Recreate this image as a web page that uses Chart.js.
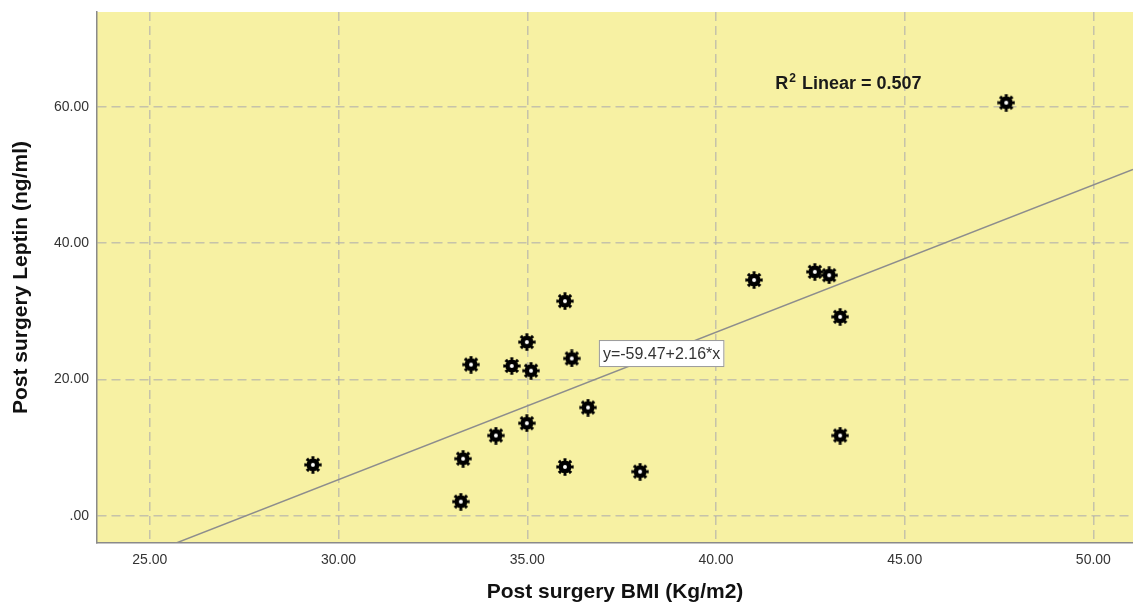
<!DOCTYPE html>
<html>
<head>
<meta charset="utf-8">
<script src="https://cdn.jsdelivr.net/npm/chart.js@4/dist/chart.umd.min.js"></script>
<style>
  html, body { margin: 0; padding: 0; background: #fff; }
  #wrap { width: 1133px; height: 607px; }
</style>
</head>
<body>
<div id="wrap"><canvas id="scatter" width="1133" height="607"></canvas></div>
<script>
// ── Data ───────────────────────────────────────────────────
const bmi    = [29.32, 33.24, 33.30, 33.51, 34.17, 34.59, 34.99, 35.10, 34.99, 36.00,
                36.18, 36.00, 36.61, 37.99, 41.01, 42.62, 43.00, 43.29, 43.29, 47.69];
const leptin = [7.5, 2.1, 8.4, 22.2, 11.8, 22.0, 25.5, 21.3, 13.6, 31.5,
                23.1, 7.2, 15.9, 6.5, 34.6, 35.8, 35.3, 29.2, 11.8, 60.6];

const xTicks = [25, 30, 35, 40, 45, 50];
const yTicks = [0, 20, 40, 60];
const xRange = [23.6, 51.05];
const yRange = [-3.96, 73.9];

// fit line y = a + b*x
const fitIntercept = -59.47;
const fitSlope = 2.16;
const rSquared = 0.507;
const fitLabelAt = 38.56;   // x where the equation box sits on the line
const r2LabelAt = [41.57, 63.4];

const points = bmi.map((x, i) => ({ x, y: leptin[i] }));
const fitLine = xRange.map(x => ({ x, y: fitIntercept + fitSlope * x }));

/* ── Gear-shaped marker ────────────────────────────────────*/
function makeGear(size) {
  const c = document.createElement("canvas");
  c.width = size; c.height = size;
  const g = c.getContext("2d");
  const cx = size / 2, cy = size / 2;
  const rOut = size / 2 - 0.3, rIn = size * 0.36;
  g.fillStyle = "#000";
  g.beginPath();
  const teeth = 8;
  for (let i = 0; i < teeth * 2; i++) {
    const r = i % 2 === 0 ? rOut : rIn;
    const a0 = (i / (teeth * 2)) * Math.PI * 2 - Math.PI / 16;
    const a1 = ((i + 1) / (teeth * 2)) * Math.PI * 2 - Math.PI / 16;
    g.arc(cx, cy, r, a0, a1);
  }
  g.closePath();
  g.fill();
  g.fillStyle = "#fff";
  g.beginPath();
  g.arc(cx, cy, size * 0.11, 0, Math.PI * 2);
  g.fill();
  return c;
}
const gear = makeGear(18);

/* ── Plot background + annotations ─────────────────────────*/
const plotBg = {
  id: "plotBg",
  beforeDraw(chart) {
    const { ctx, chartArea: a } = chart;
    ctx.save();
    ctx.fillStyle = "#F7F1A3";
    ctx.fillRect(a.left, a.top, a.right - a.left, a.bottom - a.top);
    ctx.restore();
  }
};

const notes = {
  id: "notes",
  afterDatasetsDraw(chart) {
    const { ctx, scales: { x, y } } = chart;
    ctx.save();

    // R² label
    const rx = x.getPixelForValue(r2LabelAt[0]);
    const ry = y.getPixelForValue(r2LabelAt[1]);
    ctx.fillStyle = "#1a1a1a";
    ctx.textBaseline = "alphabetic";
    ctx.textAlign = "left";
    ctx.font = "bold 18px 'Liberation Sans', Arial, sans-serif";
    ctx.fillText("R", rx, ry + 5);
    let w = ctx.measureText("R").width;
    ctx.font = "bold 12px 'Liberation Sans', Arial, sans-serif";
    ctx.fillText("2", rx + w + 1, ry - 2);
    w += ctx.measureText("2").width + 2;
    ctx.font = "bold 18px 'Liberation Sans', Arial, sans-serif";
    ctx.fillText(" Linear = " + rSquared.toFixed(3), rx + w, ry + 5);

    // equation box on the fit line
    const ex = x.getPixelForValue(fitLabelAt);
    const ey = y.getPixelForValue(fitIntercept + fitSlope * fitLabelAt);
    const eq = "y=" + fitIntercept.toFixed(2) + "+" + fitSlope.toFixed(2) + "*x";
    ctx.font = "16px 'Liberation Sans', Arial, sans-serif";
    const tw = ctx.measureText(eq).width;
    const bw = tw + 8, bh = 27;
    ctx.fillStyle = "#fff";
    ctx.fillRect(ex - bw / 2, ey - bh / 2, bw, bh);
    ctx.strokeStyle = "#9a9a9a";
    ctx.lineWidth = 1;
    ctx.strokeRect(ex - bw / 2 + 0.5, ey - bh / 2 + 0.5, bw - 1, bh - 1);
    ctx.fillStyle = "#333";
    ctx.textAlign = "center";
    ctx.textBaseline = "middle";
    ctx.fillText(eq, ex, ey + 1);
    ctx.restore();
  }
};

const tickFont = { family: "'Liberation Sans', Arial, sans-serif", size: 14 };
const titleFont = { family: "'Liberation Sans', Arial, sans-serif", size: 21, weight: "bold" };
const gridStyle = { color: "rgba(165,165,175,0.6)", lineWidth: 1.5, drawTicks: false };
const borderStyle = { color: "#8a8a8a", width: 1.5, dash: [9, 5] };

new Chart(document.getElementById("scatter"), {
  type: "scatter",
  data: {
    datasets: [
      {
        label: "Leptin",
        data: points,
        pointStyle: gear,
        pointRadius: 9,
        pointHoverRadius: 9
      },
      {
        type: "line",
        label: "Fit",
        data: fitLine,
        borderColor: "#8d8d8d",
        borderWidth: 1.5,
        pointRadius: 0,
        fill: false,
        tension: 0
      }
    ]
  },
  options: {
    responsive: false,
    animation: false,
    layout: { autoPadding: false, padding: { top: 12, right: 0, left: 0, bottom: 0 } },
    plugins: { legend: { display: false }, tooltip: { enabled: false } },
    scales: {
      x: {
        type: "linear",
        min: xRange[0], max: xRange[1],
        afterBuildTicks: s => { s.ticks = xTicks.map(v => ({ value: v })); },
        afterFit: s => { s.height = 64; s.paddingLeft = 0; s.paddingRight = 0; },
        grid: gridStyle,
        border: borderStyle,
        ticks: { font: tickFont, color: "#333", padding: 9, maxRotation: 0,
                 callback: v => v.toFixed(2) },
        title: { display: true, text: "Post surgery BMI (Kg/m2)", font: titleFont,
                 color: "#111", padding: { top: 0, bottom: 2 } }
      },
      y: {
        type: "linear",
        min: yRange[0], max: yRange[1],
        afterBuildTicks: s => { s.ticks = yTicks.map(v => ({ value: v })); },
        afterFit: s => { s.width = 97; s.paddingTop = 0; s.paddingBottom = 0; },
        grid: gridStyle,
        border: borderStyle,
        ticks: { font: tickFont, color: "#333", padding: 8,
                 callback: v => (v === 0 ? ".00" : v.toFixed(2)) },
        title: { display: true, text: "Post surgery Leptin (ng/ml)", font: titleFont,
                 color: "#111", padding: { top: 9, bottom: 0 } }
      }
    }
  },
  plugins: [plotBg, notes]
});
</script>
</body>
</html>
